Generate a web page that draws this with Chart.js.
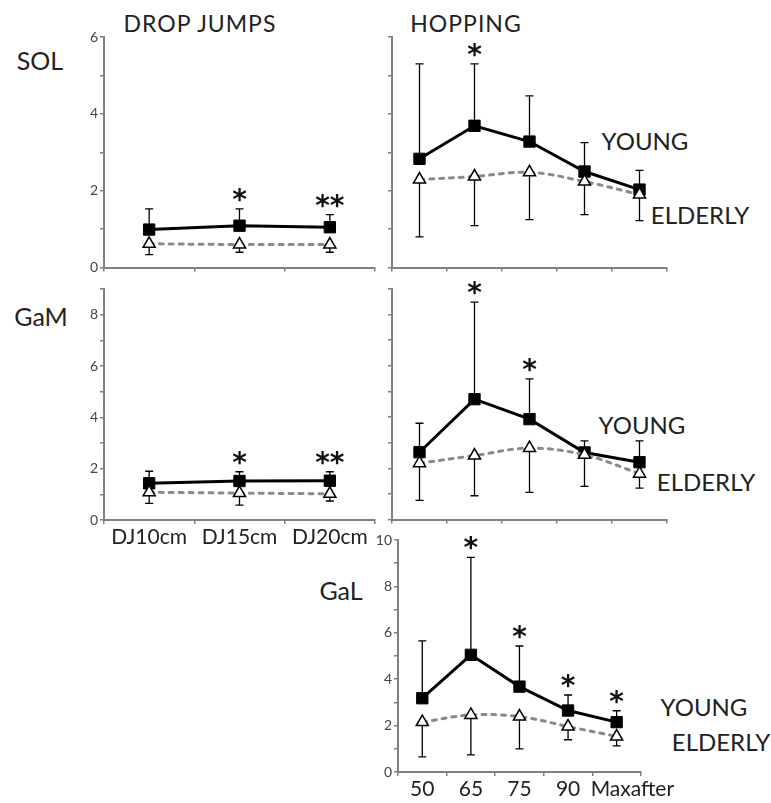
<!DOCTYPE html>
<html>
<head>
<meta charset="utf-8">
<script src="https://cdn.jsdelivr.net/npm/chart.js@4.4.1/dist/chart.umd.min.js"></script>
<style>
  body { margin: 0; background: #fff; }
  #page { position: relative; width: 771px; height: 803px; overflow: hidden; font-family: Lato, "Open Sans", sans-serif; color: #222; }
  #page canvas { position: absolute; }
  .lbl { position: absolute; white-space: nowrap; transform: translate(-50%, -50%); line-height: 1; }
  .title { font-size: 23px; letter-spacing: 1px; }
  .muscle { font-size: 25px; }
  .group { font-size: 24px; }
</style>
</head>
<body>
<div id="page">
  <div class="lbl title" style="left:200px; top:23px;">DROP JUMPS</div>
  <div class="lbl title" style="left:466px; top:23px;">HOPPING</div>
  <div class="lbl muscle" style="left:40px; top:60px;">SOL</div>
  <div class="lbl muscle" style="left:41px; top:316px;">GaM</div>
  <div class="lbl muscle" style="left:341px; top:590px;">GaL</div>
  <div class="lbl group" style="left:645px; top:141px;">YOUNG</div>
  <div class="lbl group" style="left:700px; top:215px;">ELDERLY</div>
  <div class="lbl group" style="left:642px; top:425px;">YOUNG</div>
  <div class="lbl group" style="left:706px; top:482px;">ELDERLY</div>
  <div class="lbl group" style="left:704px; top:707px;">YOUNG</div>
  <div class="lbl group" style="left:721px; top:742px;">ELDERLY</div>
</div>
<script>
// categories
const djLabels = ['DJ10cm', 'DJ15cm', 'DJ20cm'];
const hopLabels = ['50', '65', '75', '90', 'Maxafter'];

// SOL - drop jumps
const solDjYoung = [0.99, 1.09, 1.05];
const solDjYoungSd = [0.54, 0.44, 0.33];
const solDjElderly = [0.62, 0.60, 0.60];
const solDjElderlySd = [0.28, 0.20, 0.20];
const solDjSig = ['', '*', '**'];

// SOL - hopping
const solHopYoung = [2.83, 3.69, 3.28, 2.50, 2.03];
const solHopYoungSd = [2.47, 1.61, 1.19, 0.75, 0.50];
const solHopElderly = [2.29, 2.37, 2.48, 2.24, 1.90];
const solHopElderlySd = [1.49, 1.28, 1.23, 0.86, 0.68];
const solHopSig = ['', '*', '', '', ''];

// GaM - drop jumps
const gamDjYoung = [1.43, 1.52, 1.53];
const gamDjYoungSd = [0.47, 0.36, 0.35];
const gamDjElderly = [1.08, 1.05, 1.02];
const gamDjElderlySd = [0.43, 0.47, 0.28];
const gamDjSig = ['', '*', '**'];

// GaM - hopping
const gamHopYoung = [2.63, 4.70, 3.92, 2.62, 2.24];
const gamHopYoungSd = [1.13, 3.79, 1.57, 0.45, 0.83];
const gamHopElderly = [2.20, 2.50, 2.79, 2.53, 1.79];
const gamHopElderlySd = [1.45, 1.57, 1.73, 1.23, 0.56];
const gamHopSig = ['', '*', '*', '', ''];

// GaL - hopping
const galHopYoung = [3.18, 5.05, 3.68, 2.65, 2.15];
const galHopYoungSd = [2.47, 4.20, 1.75, 0.67, 0.49];
const galHopElderly = [2.15, 2.46, 2.39, 1.96, 1.53];
const galHopElderlySd = [1.50, 1.72, 1.39, 0.57, 0.40];
const galHopSig = ['', '*', '*', '*', '*'];

const FONT = 'Lato, "Open Sans", sans-serif';
const AXIS = '#808080';

// error bars: young goes up, elderly goes down
const errorBars = {
  id: 'errorBars',
  beforeDatasetsDraw(chart) {
    const { ctx, scales: { x, y } } = chart;
    ctx.save();
    ctx.strokeStyle = '#000';
    ctx.lineWidth = 1.3;
    chart.data.datasets.forEach(ds => {
      ds.data.forEach((v, i) => {
        const px = x.getPixelForValue(i);
        const y0 = y.getPixelForValue(v);
        const y1 = y.getPixelForValue(v + ds.errDir * ds.errors[i]);
        ctx.beginPath();
        ctx.moveTo(px, y0);
        ctx.lineTo(px, y1);
        ctx.moveTo(px - 4, y1);
        ctx.lineTo(px + 4, y1);
        ctx.stroke();
      });
    });
    ctx.restore();
  }
};

// significance stars above the young error bar
const stars = {
  id: 'stars',
  afterDatasetsDraw(chart) {
    const sig = chart.options.plugins.stars.marks;
    const young = chart.data.datasets.find(d => d.errDir > 0);
    const { ctx, scales: { x, y } } = chart;
    ctx.save();
    ctx.fillStyle = '#111';
    ctx.font = 'bold 28px "DejaVu Sans", sans-serif';
    ctx.textAlign = 'center';
    ctx.textBaseline = 'alphabetic';
    sig.forEach((s, i) => {
      if (!s) return;
      const top = y.getPixelForValue(young.data[i] + young.errors[i]);
      ctx.fillText(s, x.getPixelForValue(i), top);
    });
    ctx.restore();
  }
};

function makePanel(area, cfg) {
  const yW = 46, padTop = 16, padRight = 6;
  const xH = cfg.xLabels ? 34 : 10;
  const canvas = document.createElement('canvas');
  canvas.width = yW + area.w + padRight;
  canvas.height = padTop + area.h + xH;
  canvas.style.left = (area.x - yW) + 'px';
  canvas.style.top = (area.y - padTop) + 'px';
  document.getElementById('page').appendChild(canvas);

  new Chart(canvas, {
    type: 'line',
    data: {
      labels: cfg.labels,
      datasets: [
        {
          data: cfg.elderly,
          errors: cfg.elderlySd,
          errDir: -1,
          borderColor: '#8a8a8a',
          borderWidth: 3,
          borderDash: [4, 6],
          borderCapStyle: 'round',
          tension: 0.35,
          pointStyle: 'triangle',
          pointRadius: 7,
          pointBackgroundColor: '#fff',
          pointBorderColor: '#000',
          pointBorderWidth: 1.5
        },
        {
          data: cfg.young,
          errors: cfg.youngSd,
          errDir: 1,
          borderColor: '#000',
          borderWidth: 3,
          tension: 0,
          pointStyle: 'rect',
          pointRadius: 8,
          pointBackgroundColor: '#000',
          pointBorderColor: '#000',
          pointBorderWidth: 1
        }
      ]
    },
    options: {
      responsive: false,
      animation: false,
      events: [],
      layout: { padding: { top: padTop, right: padRight, left: 0, bottom: 0 } },
      plugins: {
        legend: { display: false },
        tooltip: { enabled: false },
        stars: { marks: cfg.sig }
      },
      scales: {
        x: {
          offset: true,
          grid: { offset: true, drawOnChartArea: false, tickLength: 4, color: AXIS, lineWidth: 1.5 },
          border: { color: AXIS, width: 2 },
          ticks: {
            autoSkip: false,
            maxRotation: 0,
            padding: 1,
            color: '#222',
            font: { family: FONT, size: 21 },
            callback: function (v) {
              if (!cfg.xLabels) return '';
              const t = this.getLabelForValue(v);
              // the last hopping label sits a little right of its point
              return t === 'Maxafter' ? '\u2002\u2002\u2002' + t : t;
            }
          },
          afterFit: s => { s.height = xH; }
        },
        y: {
          min: 0,
          max: cfg.ymax,
          grid: { drawOnChartArea: false, tickLength: 4, color: AXIS, lineWidth: 1.5 },
          border: { color: AXIS, width: 2 },
          ticks: {
            stepSize: 1,
            padding: 2,
            color: '#444',
            font: { family: FONT, size: 14 },
            callback: v => (cfg.yLabels && v % 2 === 0) ? v : ''
          },
          afterFit: s => { s.width = yW; }
        }
      }
    },
    plugins: [errorBars, stars]
  });
}

makePanel({ x: 104, y: 37, w: 274, h: 231 }, {
  labels: djLabels, young: solDjYoung, youngSd: solDjYoungSd,
  elderly: solDjElderly, elderlySd: solDjElderlySd, sig: solDjSig,
  ymax: 6, yLabels: true, xLabels: false
});
makePanel({ x: 392, y: 37, w: 278, h: 231 }, {
  labels: hopLabels, young: solHopYoung, youngSd: solHopYoungSd,
  elderly: solHopElderly, elderlySd: solHopElderlySd, sig: solHopSig,
  ymax: 6, yLabels: false, xLabels: false
});
makePanel({ x: 104, y: 289, w: 274, h: 231 }, {
  labels: djLabels, young: gamDjYoung, youngSd: gamDjYoungSd,
  elderly: gamDjElderly, elderlySd: gamDjElderlySd, sig: gamDjSig,
  ymax: 9, yLabels: true, xLabels: true
});
makePanel({ x: 392, y: 289, w: 278, h: 231 }, {
  labels: hopLabels, young: gamHopYoung, youngSd: gamHopYoungSd,
  elderly: gamHopElderly, elderlySd: gamHopElderlySd, sig: gamHopSig,
  ymax: 9, yLabels: false, xLabels: false
});
makePanel({ x: 398, y: 540, w: 272, h: 232 }, {
  labels: hopLabels, young: galHopYoung, youngSd: galHopYoungSd,
  elderly: galHopElderly, elderlySd: galHopElderlySd, sig: galHopSig,
  ymax: 10, yLabels: true, xLabels: true
});
</script>
</body>
</html>
